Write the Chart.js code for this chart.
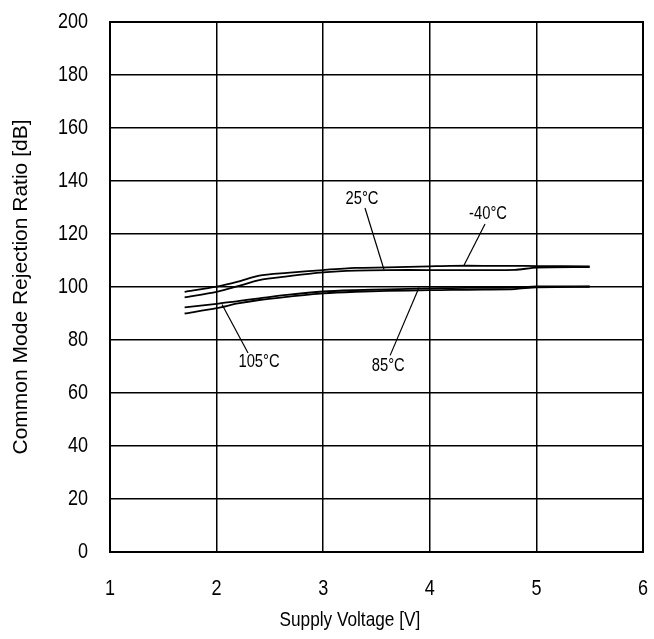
<!DOCTYPE html>
<html>
<head>
<meta charset="utf-8">
<script src="https://cdn.jsdelivr.net/npm/chart.js@4.4.1/dist/chart.umd.min.js"></script>
<style>
  html, body { margin: 0; padding: 0; background: #fff; }
  #wrap { width: 654px; height: 639px; }
</style>
</head>
<body>
<div id="wrap"><canvas id="c" width="654" height="639"></canvas></div>
<script>
// ---- data ----
const voltage   = [1.7, 2.0, 2.2, 2.4, 2.66, 3.0, 3.3, 3.6, 4.0, 4.2, 4.5, 4.8, 5.0, 5.5];
const cmrrM40   = [98.2, 100.1, 102.0, 104.3, 105.3, 106.4, 107.2, 107.4, 107.8, 108.0, 108.0, 108.0, 107.9, 107.8];
const cmrr25    = [96.1, 98.2, 100.3, 102.6, 104.0, 105.5, 106.2, 106.4, 106.4, 106.4, 106.4, 106.5, 107.3, 107.5];
const cmrr85    = [92.3, 93.6, 94.7, 95.7, 97.0, 98.3, 98.8, 99.1, 99.5, 99.6, 99.7, 99.8, 100.2, 100.2];
const cmrr105   = [90.0, 92.0, 93.8, 95.1, 96.3, 97.6, 98.2, 98.5, 98.8, 98.9, 99.0, 99.2, 99.9, 100.1];
const seriesNames = ["-40°C", "25°C", "85°C", "105°C"];
const xTicks = [1, 2, 3, 4, 5, 6];
const yTicks = [0, 20, 40, 60, 80, 100, 120, 140, 160, 180, 200];
const xTitle = "Supply Voltage [V]";
const yTitle = "Common Mode Rejection Ratio [dB]";
// annotation labels: text, label anchor (data units), leader line end on curve (data units)
const labelText  = ["25°C", "-40°C", "105°C", "85°C"];
const labelAt    = [[3.364, 133.3], [4.546, 127.4], [2.398, 71.7], [3.61, 70.2]];
const leaderFrom = [[3.392, 129.8], [4.518, 123.8], [2.295, 75.1], [3.628, 74.2]];
const leaderTo   = [[3.570, 106.6], [4.321, 108.2], [2.051, 93.4], [3.899, 99.8]];

const FONT = "'Liberation Sans', Arial, sans-serif";
const SQUEEZE = 0.82; // reference text is horizontally condensed
const toPts = arr => voltage.map((v, i) => ({ x: v, y: arr[i] }));
const allSeries = [cmrrM40, cmrr25, cmrr85, cmrr105];

function drawText(ctx, text, x, y, size, align) {
  ctx.save();
  ctx.font = size + 'px ' + FONT;
  ctx.fillStyle = '#000';
  ctx.textAlign = align;
  ctx.textBaseline = 'middle';
  ctx.translate(x, y);
  ctx.scale(SQUEEZE, 1);
  ctx.fillText(text, 0, 0);
  ctx.restore();
}

const annotations = {
  id: 'annotations',
  afterDatasetsDraw(chart) {
    const { ctx, scales: { x, y } } = chart;
    ctx.save();
    ctx.strokeStyle = '#000';
    ctx.lineWidth = 1.2;
    labelText.forEach((t, i) => {
      ctx.beginPath();
      ctx.moveTo(x.getPixelForValue(leaderFrom[i][0]), y.getPixelForValue(leaderFrom[i][1]));
      ctx.lineTo(x.getPixelForValue(leaderTo[i][0]), y.getPixelForValue(leaderTo[i][1]));
      ctx.stroke();
      drawText(ctx, t, x.getPixelForValue(labelAt[i][0]), y.getPixelForValue(labelAt[i][1]), 18, 'center');
    });
    ctx.restore();
  }
};

const axisText = {
  id: 'axisText',
  afterDraw(chart) {
    const { ctx, chartArea: a, scales: { x, y } } = chart;
    xTicks.forEach(v => drawText(ctx, String(v), x.getPixelForValue(v), 589, 22, 'center'));
    yTicks.forEach(v => drawText(ctx, String(v), 88, y.getPixelForValue(v), 22, 'right'));
    drawText(ctx, xTitle, a.left + (a.right - a.left) * 0.45, 620, 21, 'center');
  }
};

new Chart(document.getElementById('c'), {
  type: 'line',
  data: {
    datasets: allSeries.map((s, i) => ({
      label: seriesNames[i],
      data: toPts(s),
      borderColor: '#000',
      borderWidth: 1.8,
      pointRadius: 0,
      tension: 0.25,
      fill: false
    }))
  },
  options: {
    responsive: false,
    animation: false,
    layout: { padding: { top: 22, right: 11, left: 0, bottom: 0 } },
    plugins: { legend: { display: false }, tooltip: { enabled: false } },
    scales: {
      x: {
        type: 'linear',
        min: 1, max: 6,
        afterBuildTicks: s => { s.ticks = xTicks.map(v => ({ value: v })); },
        afterFit: s => { s.height = 639 - 552; s.paddingLeft = 0; s.paddingRight = 0; },
        grid: { color: '#000', lineWidth: 1.5, drawTicks: false },
        border: { color: '#000', width: 2 },
        ticks: { display: false },
        title: { display: false }
      },
      y: {
        type: 'linear',
        min: 0, max: 200,
        afterBuildTicks: s => { s.ticks = yTicks.map(v => ({ value: v })); },
        afterFit: s => { s.width = 110; s.paddingTop = 0; s.paddingBottom = 0; },
        grid: { color: '#000', lineWidth: 1.5, drawTicks: false },
        border: { color: '#000', width: 2 },
        ticks: { display: false },
        title: { display: true, text: yTitle, color: '#000', font: { family: FONT, size: 21 }, padding: { top: 9, bottom: 0 } }
      }
    }
  },
  plugins: [annotations, axisText, {
    id: 'frame',
    afterDraw(chart) {
      const { ctx, chartArea: a } = chart;
      ctx.save();
      ctx.strokeStyle = '#000';
      ctx.lineWidth = 2;
      ctx.strokeRect(a.left, a.top, a.right - a.left, a.bottom - a.top);
      ctx.restore();
    }
  }]
});
</script>
</body>
</html>
